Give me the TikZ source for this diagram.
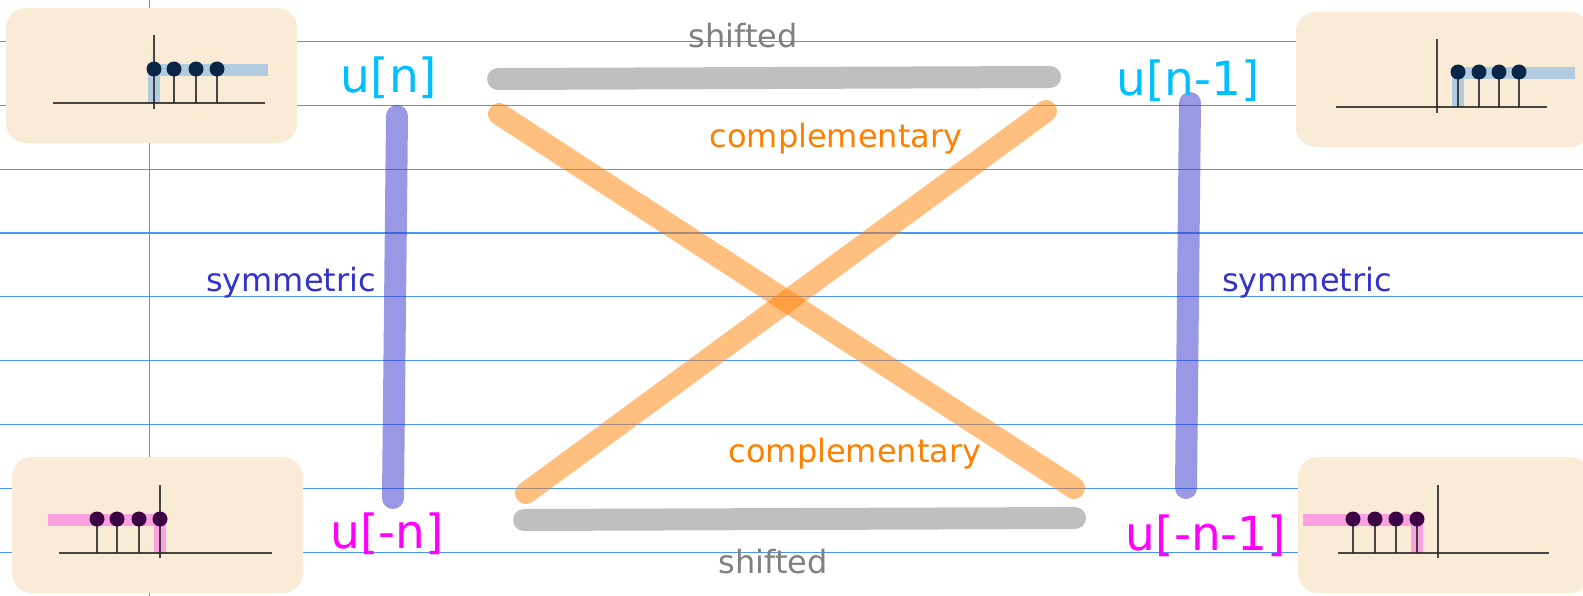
\documentclass[tikz,border=0pt]{standalone}
\usepackage{fontspec}
\setmainfont{DejaVu Sans}
\definecolor{ruleblue}{RGB}{74,150,245}
\definecolor{marginpink}{RGB}{255,64,170}
\definecolor{thumbfill}{RGB}{250,235,215}
\definecolor{symblue}{RGB}{51,51,204}
\definecolor{comporange}{RGB}{255,128,0}
\definecolor{shiftgray}{RGB}{128,128,128}
\definecolor{sigcyan}{RGB}{0,191,255}
\definecolor{sigmag}{RGB}{255,0,255}
\definecolor{hlblue}{RGB}{160,196,226}
\definecolor{hlpink}{RGB}{250,150,225}
\definecolor{dotnavy}{RGB}{8,38,72}
\definecolor{dotpurple}{RGB}{62,0,68}
\definecolor{axisgray}{RGB}{40,40,40}
\begin{document}
\begin{tikzpicture}[x=1pt,y=-1pt,
  ruling/.style={draw=ruleblue,line width=1.2pt},
  thumb/.style={fill=thumbfill,rounded corners=20pt},
  axisline/.style={draw=axisgray,line width=2.4pt,opacity=0.85},
  stem/.style={draw=axisgray,line width=2.2pt,opacity=0.85},
  hlb/.style={draw=hlblue,line width=12pt,opacity=0.8},
  hlp/.style={draw=hlpink,line width=12pt,opacity=0.85},
  bigsig/.style={inner sep=0pt,font=\fontsize{47}{50}\selectfont},
  small/.style={inner sep=0pt,font=\fontsize{32}{36}\selectfont},
  bar/.style={line width=22pt,line cap=round,opacity=0.5},
]
\useasboundingbox (0,0) rectangle (1583,596);
\fill[white] (0,0) rectangle (1583,596);
% ruled paper
\foreach \k in {0,...,8} {
  \draw[ruling] (0,{41.4+63.86*\k}) -- (1583,{41.4+63.86*\k});
}
\draw[draw=marginpink,line width=1.6pt] (149.5,0) -- (149.5,596);

% thumbnails
\fill[thumb] (6,8) rectangle (297,143);
\fill[thumb] (1296,12) rectangle (1590,147);
\fill[thumb] (12,457) rectangle (303,593);
\fill[thumb] (1298,457) rectangle (1590,593);

% top-left thumbnail: u[n]
\draw[hlb] (154,103) -- (154,70) -- (268,70);
\draw[axisline] (53,103) -- (265,103);
\draw[axisline] (154,35) -- (154,109);
\foreach \x in {174,196,217} \draw[stem] (\x,103) -- (\x,69);
\foreach \x in {154,174,196,217} \fill[dotnavy] (\x,69) circle (7.5);

% top-right thumbnail: u[n-1]
\draw[hlb] (1458,107) -- (1458,73) -- (1575,73);
\draw[axisline] (1336,107) -- (1547,107);
\draw[axisline] (1437,39) -- (1437,113);
\foreach \x in {1458,1479,1499,1519} \draw[stem] (\x,107) -- (\x,72);
\foreach \x in {1458,1479,1499,1519} \fill[dotnavy] (\x,72) circle (7.5);

% bottom-left thumbnail: u[-n]
\draw[hlp] (48,520) -- (160,520) -- (160,553);
\draw[axisline] (59,553) -- (272,553);
\draw[axisline] (160,485) -- (160,558);
\foreach \x in {97,117,139} \draw[stem] (\x,553) -- (\x,519);
\foreach \x in {97,117,139,160} \fill[dotpurple] (\x,519) circle (7.5);

% bottom-right thumbnail: u[-n-1]
\draw[hlp] (1303,520) -- (1417,520) -- (1417,553);
\draw[axisline] (1338,553) -- (1549,553);
\draw[axisline] (1438,485) -- (1438,558);
\foreach \x in {1353,1375,1396,1417} \draw[stem] (\x,553) -- (\x,519);
\foreach \x in {1353,1375,1396,1417} \fill[dotpurple] (\x,519) circle (7.5);

% end points of the bars
\coordinate (gt1) at (498,79);   \coordinate (gt2) at (1050,77);
\coordinate (gb1) at (524,520);  \coordinate (gb2) at (1075,518);
\coordinate (bl1) at (397,116);  \coordinate (bl2) at (393,498);
\coordinate (br1) at (1190,103); \coordinate (br2) at (1186,488);
\coordinate (oa1) at (499,114);  \coordinate (oa2) at (1074,488);
\coordinate (ob1) at (526,493);  \coordinate (ob2) at (1046,111);

\draw[bar,draw=shiftgray] (gt1) -- (gt2);
\draw[bar,draw=shiftgray] (gb1) -- (gb2);
\draw[bar,draw=symblue] (bl1) -- (bl2);
\draw[bar,draw=symblue] (br1) -- (br2);
\draw[bar,draw=comporange] (oa1) -- (oa2);
\draw[bar,draw=comporange] (ob1) -- (ob2);

% labels
\node[bigsig,text=sigcyan] (un) at (389,78) {u[n]};
\node[bigsig,text=sigcyan] (un1) at (1188,81) {u[n-1]};
\node[bigsig,text=sigmag] (umn) at (387,534) {u[-n]};
\node[bigsig,text=sigmag] (umn1) at (1206,536) {u[-n-1]};
\node[small,text=shiftgray] (sh1) at (743,36) {shifted};
\node[small,text=shiftgray] (sh2) at (773,562) {shifted};
\node[small,text=comporange] (co1) at (836,139) {complementary};
\node[small,text=comporange] (co2) at (855,454) {complementary};
\node[small,text=symblue] (sy1) at (291,283) {symmetric};
\node[small,text=symblue] (sy2) at (1307,283) {symmetric};
\end{tikzpicture}
\end{document}
